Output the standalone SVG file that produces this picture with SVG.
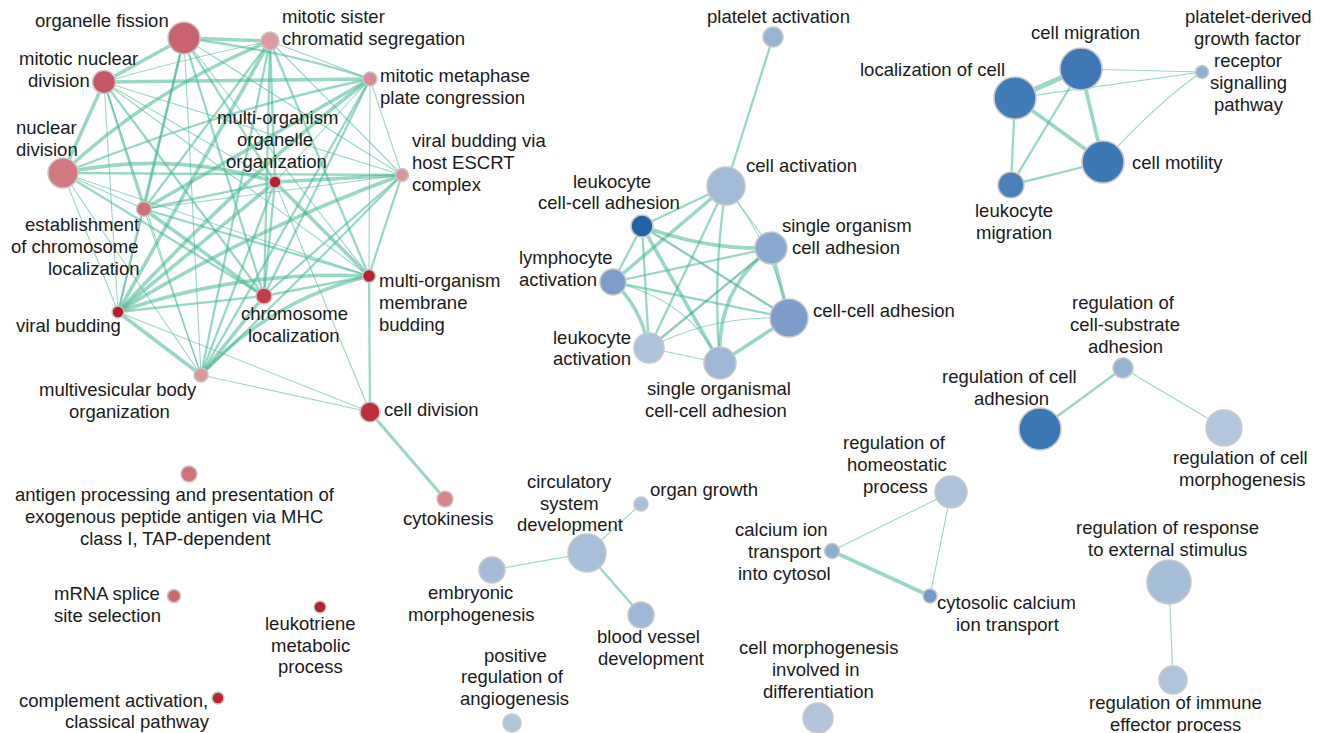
<svg xmlns="http://www.w3.org/2000/svg" width="1327" height="733" viewBox="0 0 1327 733">
<style>
  .e{fill:none;stroke:#45b892;stroke-opacity:.55;stroke-linecap:round}
  .t{stroke-width:3.6}
  .m{stroke-width:2.3}
  .s{stroke-width:1.1}
  .n{stroke:#c8c8c8;stroke-width:1.5}
  text{font-family:"Liberation Sans",Arial,sans-serif;font-size:18.5px;fill:#1a1a1a}
</style>
<rect width="1327" height="733" fill="#ffffff"/>

<g id="edges">
  <!-- mitosis / chromosome cluster -->
  <path class="e t" d="M184 38 L270 41"/>
  <path class="e t" d="M184 38 L104 82"/>
  <path class="e m" d="M184 38 Q290 52 370 79"/>
  <path class="e m" d="M184 38 L275 182"/>
  <path class="e s" d="M184 38 L402 175"/>
  <path class="e m" d="M184 38 L144 209"/>
  <path class="e s" d="M184 38 L369 276"/>
  <path class="e m" d="M184 38 L264 296"/>
  <path class="e m" d="M184 38 L118 312"/>
  <path class="e s" d="M184 38 L201 375"/>
  <path class="e s" d="M270 41 Q180 60 104 82"/>
  <path class="e s" d="M270 41 L370 79"/>
  <path class="e s" d="M270 41 L402 175"/>
  <path class="e m" d="M270 41 L275 182"/>
  <path class="e m" d="M270 41 L144 209"/>
  <path class="e m" d="M270 41 L264 296"/>
  <path class="e m" d="M270 41 L369 276"/>
  <path class="e t" d="M270 41 L118 312"/>
  <path class="e m" d="M270 41 L201 375"/>
  <path class="e t" d="M270 41 Q150 90 63 173"/>
  <path class="e t" d="M104 82 L370 79"/>
  <path class="e t" d="M104 82 L63 173"/>
  <path class="e m" d="M104 82 L144 209"/>
  <path class="e m" d="M104 82 L264 296"/>
  <path class="e s" d="M104 82 L369 276"/>
  <path class="e s" d="M104 82 L402 175"/>
  <path class="e s" d="M104 82 L275 182"/>
  <path class="e s" d="M104 82 L118 312"/>
  <path class="e s" d="M104 82 L201 375"/>
  <path class="e m" d="M370 79 Q220 110 63 173"/>
  <path class="e s" d="M370 79 L275 182"/>
  <path class="e s" d="M370 79 L402 175"/>
  <path class="e t" d="M370 79 L144 209"/>
  <path class="e m" d="M370 79 L264 296"/>
  <path class="e s" d="M370 79 L369 276"/>
  <path class="e t" d="M370 79 Q250 170 118 312"/>
  <path class="e m" d="M370 79 L201 375"/>
  <path class="e t" d="M63 173 Q170 150 275 182"/>
  <path class="e m" d="M63 173 L402 175"/>
  <path class="e s" d="M63 173 L144 209"/>
  <path class="e m" d="M63 173 L264 296"/>
  <path class="e s" d="M63 173 L369 276"/>
  <path class="e s" d="M63 173 L118 312"/>
  <path class="e s" d="M63 173 L201 375"/>
  <path class="e t" d="M275 182 L402 175"/>
  <path class="e m" d="M275 182 L144 209"/>
  <path class="e t" d="M275 182 L369 276"/>
  <path class="e m" d="M275 182 L264 296"/>
  <path class="e t" d="M275 182 L118 312"/>
  <path class="e m" d="M275 182 L201 375"/>
  <path class="e s" d="M275 182 L370 412"/>
  <path class="e s" d="M402 175 L144 209"/>
  <path class="e m" d="M402 175 Q385 225 369 276"/>
  <path class="e m" d="M402 175 L264 296"/>
  <path class="e t" d="M402 175 Q250 230 118 312"/>
  <path class="e m" d="M402 175 Q300 280 201 375"/>
  <path class="e m" d="M144 209 L369 276"/>
  <path class="e t" d="M144 209 L264 296"/>
  <path class="e s" d="M144 209 L118 312"/>
  <path class="e s" d="M144 209 L201 375"/>
  <path class="e m" d="M369 276 L264 296"/>
  <path class="e t" d="M369 276 Q240 270 118 312"/>
  <path class="e t" d="M369 276 Q270 300 201 375"/>
  <path class="e m" d="M369 276 L370 412"/>
  <path class="e m" d="M264 296 L118 312"/>
  <path class="e t" d="M264 296 L201 375"/>
  <path class="e t" d="M118 312 L201 375"/>
  <path class="e s" d="M118 312 L370 412"/>
  <path class="e s" d="M201 375 L370 412"/>
  <path class="e t" d="M370 412 L445 499" style="stroke-width:3"/>

  <!-- cell activation / adhesion cluster -->
  <path class="e m" d="M773 37 L726 186"/>
  <path class="e m" d="M726 186 L642 226"/>
  <path class="e s" d="M726 186 L771 248"/>
  <path class="e s" d="M726 186 Q775 250 789 318"/>
  <path class="e t" d="M726 186 L613 282"/>
  <path class="e m" d="M726 186 L649 348"/>
  <path class="e m" d="M726 186 Q712 280 720 363"/>
  <path class="e m" d="M642 226 L613 282"/>
  <path class="e t" d="M642 226 Q705 250 771 248"/>
  <path class="e m" d="M642 226 L789 318" style="stroke:#2f9f7f"/>
  <path class="e m" d="M642 226 L649 348"/>
  <path class="e t" d="M642 226 L720 363"/>
  <path class="e m" d="M613 282 L771 248"/>
  <path class="e m" d="M613 282 L789 318"/>
  <path class="e t" d="M613 282 Q640 305 649 348"/>
  <path class="e s" d="M613 282 Q690 300 720 363"/>
  <path class="e m" d="M649 348 L771 248" style="stroke:#2f9f7f"/>
  <path class="e s" d="M649 348 Q710 315 789 318"/>
  <path class="e s" d="M649 348 L720 363"/>
  <path class="e t" d="M771 248 L789 318"/>
  <path class="e t" d="M771 248 Q715 290 720 363"/>
  <path class="e t" d="M789 318 L720 363"/>

  <!-- migration / motility cluster -->
  <path class="e t" d="M1081 69 L1015 98" style="stroke-width:5"/>
  <path class="e s" d="M1081 69 L1202 72"/>
  <path class="e s" d="M1015 98 L1202 72"/>
  <path class="e t" d="M1015 98 L1103 162"/>
  <path class="e m" d="M1015 98 L1011 185"/>
  <path class="e m" d="M1081 69 L1011 185"/>
  <path class="e t" d="M1081 69 L1103 162"/>
  <path class="e m" d="M1103 162 L1011 185"/>
  <path class="e s" d="M1103 162 Q1160 100 1202 72"/>

  <!-- cell adhesion regulation -->
  <path class="e m" d="M1123 368 L1040 429"/>
  <path class="e s" d="M1123 368 L1224 428"/>

  <!-- calcium transport -->
  <path class="e s" d="M951 492 L832 551"/>
  <path class="e s" d="M951 492 L930 596"/>
  <path class="e t" d="M832 551 L930 596"/>

  <!-- development -->
  <path class="e s" d="M587 553 L641 504"/>
  <path class="e s" d="M587 553 L492 570"/>
  <path class="e m" d="M587 553 L641 615"/>

  <!-- response regulation -->
  <path class="e s" d="M1169 582 L1173 680"/>
</g>

<!-- mitosis / chromosome nodes -->
<g id="n-organelle-fission"><circle class="n" cx="184" cy="38" r="16" fill="#c9636f"/><text x="35" y="27">organelle fission</text></g>
<g id="n-mitotic-sister"><circle class="n" cx="270" cy="41" r="9" fill="#dc9ba2"/><text><tspan x="282" y="23">mitotic sister</tspan><tspan x="282" y="45">chromatid segregation</tspan></text></g>
<g id="n-mitotic-nuclear-division"><circle class="n" cx="104" cy="82" r="11.5" fill="#c65865"/><text><tspan x="19" y="65">mitotic nuclear</tspan><tspan x="28" y="87">division</tspan></text></g>
<g id="n-mitotic-metaphase"><circle class="n" cx="370" cy="79" r="7" fill="#d98c95"/><text><tspan x="380" y="82">mitotic metaphase</tspan><tspan x="380" y="104">plate congression</tspan></text></g>
<g id="n-nuclear-division"><circle class="n" cx="63" cy="173" r="15" fill="#d17880"/><text><tspan x="16" y="134">nuclear</tspan><tspan x="16" y="156">division</tspan></text></g>
<g id="n-multi-organism-organelle"><circle class="n" cx="275" cy="182" r="6" fill="#b52230"/><text><tspan x="217" y="124">multi-organism</tspan><tspan x="237" y="146">organelle</tspan><tspan x="226" y="168">organization</tspan></text></g>
<g id="n-viral-budding-escrt"><circle class="n" cx="402" cy="175" r="6.5" fill="#da959c"/><text><tspan x="412" y="147">viral budding via</tspan><tspan x="412" y="169">host ESCRT</tspan><tspan x="412" y="191">complex</tspan></text></g>
<g id="n-establishment-chromosome"><circle class="n" cx="144" cy="209" r="7.5" fill="#cf717a"/><text><tspan x="25" y="231">establishment</tspan><tspan x="11" y="253">of chromosome</tspan><tspan x="48" y="275">localization</tspan></text></g>
<g id="n-multi-organism-membrane"><circle class="n" cx="369" cy="276" r="6.5" fill="#b6222f"/><text><tspan x="379" y="287">multi-organism</tspan><tspan x="379" y="309">membrane</tspan><tspan x="379" y="331">budding</tspan></text></g>
<g id="n-chromosome-localization"><circle class="n" cx="264" cy="296" r="8" fill="#c33e4b"/><text><tspan x="241" y="320">chromosome</tspan><tspan x="248" y="342">localization</tspan></text></g>
<g id="n-viral-budding"><circle class="n" cx="118" cy="312" r="6" fill="#b41d2a"/><text x="16" y="332">viral budding</text></g>
<g id="n-multivesicular"><circle class="n" cx="201" cy="375" r="7" fill="#da979e"/><text><tspan x="39" y="396">multivesicular body</tspan><tspan x="69" y="418">organization</tspan></text></g>
<g id="n-cell-division"><circle class="n" cx="370" cy="412" r="10" fill="#be2e3b"/><text x="384" y="416">cell division</text></g>
<g id="n-cytokinesis"><circle class="n" cx="445" cy="499" r="8" fill="#d7848c"/><text x="403" y="525">cytokinesis</text></g>

<!-- standalone red terms -->
<g id="n-antigen-processing"><circle class="n" cx="189" cy="474" r="8" fill="#d0727a"/><text><tspan x="15" y="501">antigen processing and presentation of</tspan><tspan x="25" y="523">exogenous peptide antigen via MHC</tspan><tspan x="80" y="545">class I, TAP-dependent</tspan></text></g>
<g id="n-mrna-splice"><circle class="n" cx="174" cy="596" r="6.5" fill="#cd6870"/><text><tspan x="54" y="600">mRNA splice</tspan><tspan x="54" y="622">site selection</tspan></text></g>
<g id="n-leukotriene"><circle class="n" cx="320" cy="607" r="6" fill="#b6232e"/><text><tspan x="265" y="630">leukotriene</tspan><tspan x="271" y="652">metabolic</tspan><tspan x="278" y="673">process</tspan></text></g>
<g id="n-complement"><circle class="n" cx="218" cy="698" r="6" fill="#b82733"/><text><tspan x="19" y="707">complement activation,</tspan><tspan x="65" y="728">classical pathway</tspan></text></g>

<!-- cell activation / adhesion nodes -->
<g id="n-platelet-activation"><circle class="n" cx="773" cy="37" r="10" fill="#98b4d5"/><text x="707" y="23">platelet activation</text></g>
<g id="n-cell-activation"><circle class="n" cx="726" cy="186" r="19" fill="#a2bbd8"/><text x="746" y="172">cell activation</text></g>
<g id="n-leukocyte-cell-cell-adhesion"><circle class="n" cx="642" cy="226" r="11" fill="#2163a9"/><text><tspan x="573" y="188">leukocyte</tspan><tspan x="538" y="209">cell-cell adhesion</tspan></text></g>
<g id="n-single-organism-cell-adhesion"><circle class="n" cx="771" cy="248" r="16" fill="#8aa9d0"/><text><tspan x="782" y="232">single organism</tspan><tspan x="792" y="254">cell adhesion</tspan></text></g>
<g id="n-lymphocyte-activation"><circle class="n" cx="613" cy="282" r="13" fill="#7d9ecb"/><text><tspan x="519" y="264">lymphocyte</tspan><tspan x="519" y="286">activation</tspan></text></g>
<g id="n-cell-cell-adhesion"><circle class="n" cx="789" cy="318" r="19" fill="#7c9dca"/><text x="813" y="317">cell-cell adhesion</text></g>
<g id="n-leukocyte-activation"><circle class="n" cx="649" cy="348" r="15" fill="#aec3dd"/><text><tspan x="553" y="344">leukocyte</tspan><tspan x="553" y="365">activation</tspan></text></g>
<g id="n-single-organismal-cell-cell-adhesion"><circle class="n" cx="720" cy="363" r="16" fill="#9db7d7"/><text><tspan x="647" y="395">single organismal</tspan><tspan x="645" y="417">cell-cell adhesion</tspan></text></g>

<!-- migration / motility nodes -->
<g id="n-cell-migration"><circle class="n" cx="1081" cy="69" r="21" fill="#3e79b6"/><text x="1031" y="39">cell migration</text></g>
<g id="n-localization-of-cell"><circle class="n" cx="1015" cy="98" r="21" fill="#417cb8"/><text x="860" y="76">localization of cell</text></g>
<g id="n-pdgf-signalling"><circle class="n" cx="1202" cy="72" r="6.5" fill="#90afd4"/><text><tspan x="1185" y="23">platelet-derived</tspan><tspan x="1194" y="45">growth factor</tspan><tspan x="1214" y="67">receptor</tspan><tspan x="1210" y="89">signalling</tspan><tspan x="1214" y="111">pathway</tspan></text></g>
<g id="n-cell-motility"><circle class="n" cx="1103" cy="162" r="21" fill="#3d78b5"/><text x="1132" y="169">cell motility</text></g>
<g id="n-leukocyte-migration"><circle class="n" cx="1011" cy="185" r="13" fill="#4a81ba"/><text><tspan x="975" y="217">leukocyte</tspan><tspan x="976" y="239">migration</tspan></text></g>

<!-- cell adhesion regulation nodes -->
<g id="n-reg-cell-substrate-adhesion"><circle class="n" cx="1123" cy="368" r="10" fill="#96b2d4"/><text><tspan x="1072" y="309">regulation of</tspan><tspan x="1070" y="331">cell-substrate</tspan><tspan x="1088" y="353">adhesion</tspan></text></g>
<g id="n-reg-cell-adhesion"><circle class="n" cx="1040" cy="429" r="21" fill="#3b77b5"/><text><tspan x="942" y="383">regulation of cell</tspan><tspan x="974" y="405">adhesion</tspan></text></g>
<g id="n-reg-cell-morphogenesis"><circle class="n" cx="1224" cy="428" r="18" fill="#b5c7de"/><text><tspan x="1173" y="464">regulation of cell</tspan><tspan x="1179" y="486">morphogenesis</tspan></text></g>

<!-- calcium transport nodes -->
<g id="n-reg-homeostatic"><circle class="n" cx="951" cy="492" r="16" fill="#aec2dc"/><text><tspan x="843" y="449">regulation of</tspan><tspan x="847" y="471">homeostatic</tspan><tspan x="863" y="493">process</tspan></text></g>
<g id="n-calcium-into-cytosol"><circle class="n" cx="832" cy="551" r="7.5" fill="#8fadd3"/><text><tspan x="735" y="536">calcium ion</tspan><tspan x="748" y="558">transport</tspan><tspan x="738" y="580">into cytosol</tspan></text></g>
<g id="n-cytosolic-calcium"><circle class="n" cx="930" cy="596" r="7" fill="#7498c8"/><text><tspan x="937" y="609">cytosolic calcium</tspan><tspan x="956" y="631">ion transport</tspan></text></g>

<!-- response regulation nodes -->
<g id="n-reg-external-stimulus"><circle class="n" cx="1169" cy="582" r="22" fill="#a7bedb"/><text><tspan x="1076" y="534">regulation of response</tspan><tspan x="1088" y="556">to external stimulus</tspan></text></g>
<g id="n-reg-immune-effector"><circle class="n" cx="1173" cy="680" r="14" fill="#b0c4dd"/><text><tspan x="1089" y="709">regulation of immune</tspan><tspan x="1110" y="731">effector process</tspan></text></g>
<g id="n-cell-morphogenesis-differentiation"><circle class="n" cx="818" cy="718" r="15" fill="#b2c5dd"/><text><tspan x="739" y="654">cell morphogenesis</tspan><tspan x="772" y="676">involved in</tspan><tspan x="763" y="698">differentiation</tspan></text></g>

<!-- development nodes -->
<g id="n-circulatory-system"><circle class="n" cx="587" cy="553" r="19" fill="#a8bfdb"/><text><tspan x="527" y="488">circulatory</tspan><tspan x="540" y="510">system</tspan><tspan x="517" y="531">development</tspan></text></g>
<g id="n-organ-growth"><circle class="n" cx="641" cy="504" r="7" fill="#a9c0db"/><text x="650" y="496">organ growth</text></g>
<g id="n-embryonic-morphogenesis"><circle class="n" cx="492" cy="570" r="13" fill="#a4bcd9"/><text><tspan x="428" y="599">embryonic</tspan><tspan x="408" y="621">morphogenesis</tspan></text></g>
<g id="n-blood-vessel"><circle class="n" cx="641" cy="615" r="13" fill="#9fb8d7"/><text><tspan x="597" y="643">blood vessel</tspan><tspan x="598" y="665">development</tspan></text></g>
<g id="n-angiogenesis"><circle class="n" cx="512" cy="723" r="9" fill="#b1c5dd"/><text><tspan x="484" y="662">positive</tspan><tspan x="461" y="683">regulation of</tspan><tspan x="460" y="705">angiogenesis</tspan></text></g>
</svg>
